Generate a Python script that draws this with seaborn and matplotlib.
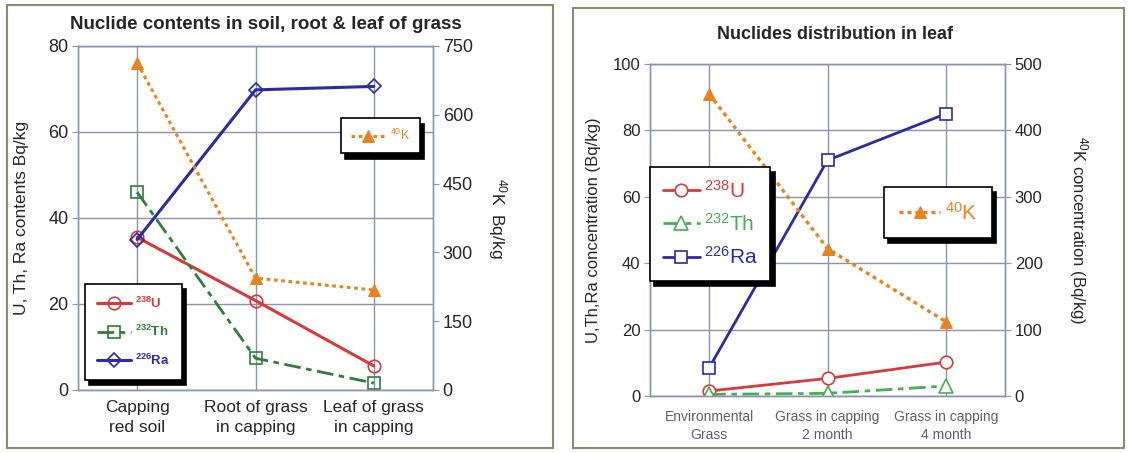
import numpy as np
import pandas as pd
import matplotlib
matplotlib.use('Agg')
import matplotlib.pyplot as plt
import seaborn as sns
from matplotlib.patches import Rectangle

sns.set_style('white')
plt.rcParams['font.family'] = ['Liberation Sans', 'DejaVu Sans']
plt.rcParams['mathtext.default'] = 'regular'

# Left panel data
cats_soil = ['Capping\nred soil', 'Root of grass\nin capping', 'Leaf of grass\nin capping']
u_soil = [35.5, 20.8, 5.6]
th_soil = [46.0, 7.4, 1.6]
ra_soil = [35.0, 69.8, 70.6]
k_soil = [713, 244, 218]

# Right panel data
cats_leaf = ['Environmental\nGrass', 'Grass in capping\n2 month', 'Grass in capping\n4 month']
u_leaf = [1.5, 5.3, 10.2]
th_leaf = [0.5, 0.8, 3.0]
ra_leaf = [8.5, 71.0, 85.0]
k_leaf = [455, 222, 112]

grid_c = '#8c93ad'
red = '#d83a3a'
green_l = '#2f7d3a'
green_r = '#45b050'
blue = '#2b2ba3'
orange = '#e8841f'

fig = plt.figure(figsize=(11.28, 4.53), dpi=100)
fig.patches.append(Rectangle((7 / 1128, 5 / 453), 546 / 1128, 443 / 453, transform=fig.transFigure,
                             fill=False, edgecolor='#8a8a70', lw=1.5))
fig.patches.append(Rectangle((573 / 1128, 5 / 453), 551 / 1128, 440 / 453, transform=fig.transFigure,
                             fill=False, edgecolor='#8a8a70', lw=1.5))


def style_axes(ax, ax2, ysize):
    for a in (ax, ax2):
        for s in a.spines.values():
            s.set_color(grid_c)
            s.set_linewidth(1)
    ax.grid(True, color=grid_c, lw=1)
    ax.set_xlim(-0.5, 2.5)
    ax.tick_params(axis='y', length=4, color=grid_c, labelsize=ysize, pad=3)
    ax2.tick_params(axis='y', length=4, color=grid_c, labelsize=ysize, pad=3)
    ax.tick_params(axis='x', length=0)


def shadow_legend(ax, handles, labels, colors, **kw):
    leg = ax.legend(handles, labels, frameon=True, fancybox=False,
                    shadow={'color': 'black', 'alpha': 1, 'ox': 3, 'oy': -4},
                    edgecolor='black', framealpha=1, borderaxespad=0, **kw)
    leg.get_frame().set_linewidth(1.2)
    for t, c in zip(leg.get_texts(), colors):
        t.set_color(c)
    return leg


def drop_legend(ax):
    if ax.get_legend():
        ax.get_legend().remove()


# ---------------- Left panel ----------------
ax1 = fig.add_axes([78 / 1128, 1 - 390 / 453, 355 / 1128, 344 / 453])
ax1b = ax1.twinx()
x1 = np.arange(len(cats_soil))
df1 = pd.DataFrame({'x': x1, 'U': u_soil, 'Th': th_soil, 'Ra': ra_soil, 'K': k_soil})

sns.lineplot(data=df1, x='x', y='U', ax=ax1, color=red, lw=2.2, marker='o', ms=9,
             mfc='none', mec=red, mew=1.2, label='$^{238}$U')
sns.lineplot(data=df1, x='x', y='Th', ax=ax1, color=green_l, lw=2, dashes=(6, 2, 2, 2), marker='s', ms=9,
             mfc='none', mec=green_l, mew=1.2, label='$^{232}$Th')
sns.lineplot(data=df1, x='x', y='Ra', ax=ax1, color=blue, lw=2.2, marker='D', ms=7,
             mfc='none', mec=blue, mew=1.2, label='$^{226}$Ra')
sns.lineplot(data=df1, x='x', y='K', ax=ax1b, color=orange, lw=2.2, dashes=(1.2, 1.2), marker='^', ms=8,
             mfc=orange, mec=orange, label='$^{40}$K')

ax1.set_ylim(0, 80)
ax1.set_yticks([0, 20, 40, 60, 80])
ax1b.set_ylim(0, 750)
ax1b.set_yticks([0, 150, 300, 450, 600, 750])
ax1.set_xticks(x1)
ax1.set_xticklabels(cats_soil, fontsize=12.5, linespacing=1.4)
ax1.tick_params(axis='x', pad=7)
ax1.set_xlabel('')
ax1.set_ylabel('U, Th, Ra contents Bq/kg', fontsize=12.5, labelpad=14)
ax1b.set_ylabel('$^{40}$K  Bq/kg', fontsize=12.5, rotation=-90, labelpad=26)
ax1.set_title('Nuclide contents in soil, root & leaf of grass', fontsize=13.5, fontweight='bold',
              pad=12, x=0.53)
style_axes(ax1, ax1b, 13)

h, l = ax1.get_legend_handles_labels()
hb, lb = ax1b.get_legend_handles_labels()
drop_legend(ax1)
drop_legend(ax1b)
leg1 = shadow_legend(ax1b, h, l, [red, green_l, blue], loc='lower left', bbox_to_anchor=(0.02, 0.03),
                     prop={'size': 9.5, 'weight': 'bold'}, handlelength=2.6, labelspacing=1.0,
                     borderpad=0.9, handletextpad=0.3)
ax1b.add_artist(leg1)
shadow_legend(ax1b, hb, lb, [orange], loc='upper right', bbox_to_anchor=(0.963, 0.79),
              prop={'size': 9}, handlelength=2.8, borderpad=0.8, handletextpad=0.3)

# ---------------- Right panel ----------------
ax2 = fig.add_axes([650 / 1128, 1 - 396 / 453, 355 / 1128, 332 / 453])
ax2b = ax2.twinx()
x2 = np.arange(len(cats_leaf))
df2 = pd.DataFrame({'x': x2, 'U': u_leaf, 'Th': th_leaf, 'Ra': ra_leaf, 'K': k_leaf})

sns.lineplot(data=df2, x='x', y='U', ax=ax2, color=red, lw=2, marker='o', ms=9,
             mfc='white', mec=red, mew=1.2, label='$^{238}$U')
sns.lineplot(data=df2, x='x', y='Th', ax=ax2, color=green_r, lw=2, dashes=(6, 2, 2, 2), marker='^', ms=10,
             mfc='white', mec=green_r, mew=1.2, label='$^{232}$Th')
sns.lineplot(data=df2, x='x', y='Ra', ax=ax2, color=blue, lw=2, marker='s', ms=9,
             mfc='white', mec=blue, mew=1.2, label='$^{226}$Ra')
sns.lineplot(data=df2, x='x', y='K', ax=ax2b, color=orange, lw=2.4, dashes=(1.2, 1.2), marker='^', ms=8,
             mfc=orange, mec=orange, label='$^{40}$K')

ax2.set_ylim(0, 100)
ax2.set_yticks([0, 20, 40, 60, 80, 100])
ax2b.set_ylim(0, 500)
ax2b.set_yticks([0, 100, 200, 300, 400, 500])
ax2.set_xticks(x2)
ax2.set_xticklabels(cats_leaf, fontsize=10, color='#606060', linespacing=1.35)
ax2.tick_params(axis='x', pad=10)
ax2.set_xlabel('')
ax2.set_ylabel('U,Th,Ra concentration (Bq/kg)', fontsize=12, labelpad=8)
ax2b.set_ylabel('$^{40}$K concentration (Bq/kg)', fontsize=12, rotation=-90, labelpad=34)
ax2.set_title('Nuclides distribution in leaf', fontsize=13, fontweight='bold', pad=18, x=0.52)
style_axes(ax2, ax2b, 12)

h2, l2 = ax2.get_legend_handles_labels()
h2b, l2b = ax2b.get_legend_handles_labels()
drop_legend(ax2)
drop_legend(ax2b)
leg2 = shadow_legend(ax2b, h2, l2, [red, green_r, blue], loc='upper left', bbox_to_anchor=(0.0, 0.69),
                     prop={'size': 15}, handlelength=1.8, labelspacing=0.55,
                     borderpad=0.6, handletextpad=0.2)
ax2b.add_artist(leg2)
shadow_legend(ax2b, h2b, l2b, [orange], loc='upper right', bbox_to_anchor=(0.963, 0.63),
              prop={'size': 15}, handlelength=2.0, borderpad=0.7, handletextpad=0.2)

fig.savefig('out.png', dpi=100)
